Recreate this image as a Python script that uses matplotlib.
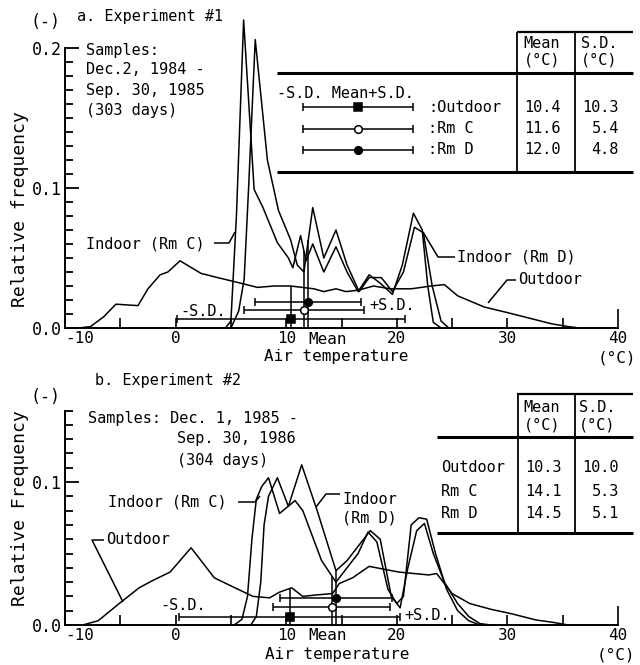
import numpy as np
import matplotlib
matplotlib.use("Agg")
import matplotlib.pyplot as plt
from matplotlib.ticker import MultipleLocator, FixedLocator

plt.rcParams['font.family'] = ['DejaVu Sans Mono']

# ---------------- data : Experiment #1 ----------------
a_out_x = [-8.8, -7.7, -6.5, -5.4, -3.4, -2.5, -1.4, -0.7, 0.4, 2.3, 3.8, 5.9, 7.4, 8.9,
           10.4, 12.5, 13.4, 14.5, 15.4, 16.5, 17.9, 19.4, 21.3, 23.1, 24.3, 25.5, 26.7,
           27.9, 30.0, 32.0, 34.0, 35.5, 36.5]
a_out_y = [0.0, 0.001, 0.008, 0.017, 0.016, 0.028, 0.038, 0.040, 0.048, 0.039, 0.036, 0.032,
           0.029, 0.030, 0.030, 0.028, 0.026, 0.028, 0.026, 0.027, 0.030, 0.028, 0.028, 0.030,
           0.031, 0.023, 0.019, 0.015, 0.011, 0.007, 0.003, 0.001, 0.0]
a_rmc_x = [4.5, 5.0, 5.5, 6.15, 7.1, 7.9, 9.2, 10.2, 10.6, 11.3, 11.8, 12.4, 13.4, 14.5, 15.5,
           16.5, 17.5, 18.5, 19.6, 20.5, 21.5, 22.3, 22.8, 23.3, 24.0]
a_rmc_y = [0.0, 0.005, 0.08, 0.22, 0.099, 0.086, 0.061, 0.05, 0.043, 0.066, 0.048, 0.060,
           0.040, 0.058, 0.040, 0.026, 0.038, 0.032, 0.024, 0.045, 0.082, 0.070, 0.030,
           0.004, 0.0]
a_rmd_x = [5.0, 5.7, 6.2, 6.6, 7.2, 8.3, 9.3, 10.4, 11.0, 11.6, 12.4, 13.4, 14.5, 15.5, 16.6,
           17.5, 18.6, 19.6, 20.6, 21.6, 22.4, 23.2, 24.0, 24.7]
a_rmd_y = [0.0, 0.012, 0.035, 0.10, 0.206, 0.12, 0.084, 0.063, 0.045, 0.040, 0.086, 0.050,
           0.070, 0.045, 0.026, 0.036, 0.036, 0.026, 0.040, 0.072, 0.068, 0.030, 0.005, 0.0]
a_labels = ["Outdoor", "Rm C", "Rm D"]
a_mean = [10.4, 11.6, 12.0]
a_sd = [10.3, 5.4, 4.8]

# ---------------- data : Experiment #2 ----------------
b_out_x = [-8.4, -7.0, -5.1, -3.3, -2.1, -0.5, 1.4, 3.5, 5.1, 7.0, 8.5, 9.4, 10.5, 11.5, 12.7,
           14.2, 14.8, 16.0, 17.5, 20.2, 22.9, 23.6, 25.0, 26.6, 28.5, 30.3, 32.6, 34.0, 35.5]
b_out_y = [0.0, 0.003, 0.015, 0.026, 0.031, 0.037, 0.054, 0.033, 0.027, 0.020, 0.019, 0.023,
           0.026, 0.020, 0.021, 0.022, 0.029, 0.033, 0.041, 0.037, 0.035, 0.036, 0.022, 0.015,
           0.011, 0.008, 0.0035, 0.002, 0.0]
b_rmc_x = [5.3, 6.0, 6.5, 6.9, 7.3, 7.8, 8.4, 9.4, 10.8, 11.5, 13.2, 14.5, 15.5, 16.5, 17.4,
           18.2, 19.2, 20.0, 20.6, 21.3, 22.0, 22.7, 23.5, 24.5, 25.5, 26.5, 27.5]
b_rmc_y = [0.0, 0.004, 0.02, 0.06, 0.088, 0.097, 0.103, 0.078, 0.087, 0.080, 0.045, 0.030,
           0.040, 0.050, 0.065, 0.058, 0.025, 0.015, 0.020, 0.070, 0.075, 0.074, 0.050, 0.025,
           0.010, 0.003, 0.0]
b_rmd_x = [6.8, 7.3, 7.7, 8.0, 8.4, 9.2, 10.2, 11.4, 12.8, 14.5, 15.5, 16.5, 17.6, 18.5, 19.5,
           20.3, 21.0, 21.8, 22.5, 23.3, 24.3, 25.5, 26.5, 27.5, 28.5]
b_rmd_y = [0.0, 0.006, 0.03, 0.07, 0.09, 0.103, 0.083, 0.112, 0.080, 0.038, 0.045, 0.055,
           0.066, 0.060, 0.020, 0.012, 0.040, 0.066, 0.071, 0.050, 0.030, 0.015, 0.006, 0.001,
           0.0]
b_labels = ["Outdoor", "Rm C", "Rm D"]
b_mean = [10.3, 14.1, 14.5]
b_sd = [10.0, 5.3, 5.1]

x_ticks = [-10, 0, 10, 20, 30, 40]
x_ticklabels = ["-10", "0", "10", "20", "30", "40"]

# ---------------- figure ----------------
W, H = 640, 665
fig = plt.figure(figsize=(W / 100, H / 100), dpi=100)
LW = 1.1
FS = 11

axa = fig.add_axes([65 / W, (H - 328) / H, 553 / W, 0.23 * 1400 / H])
axb = fig.add_axes([65 / W, (H - 625) / H, 553 / W, 0.15 * 1430 / H])


def style(ax, ytop, ylimtop, majors):
    ax.set_xlim(-10, 40)
    ax.set_ylim(0, ylimtop)
    for s in ["top", "right"]:
        ax.spines[s].set_visible(False)
    ax.spines["left"].set_bounds(0, ytop)
    ax.spines["bottom"].set_bounds(-10, 40)
    for s in ["left", "bottom"]:
        ax.spines[s].set_linewidth(1.4)
    ax.xaxis.set_major_locator(FixedLocator(x_ticks))
    ax.set_xticklabels(x_ticklabels)
    ax.xaxis.set_minor_locator(MultipleLocator(5))
    ax.yaxis.set_major_locator(FixedLocator(majors))
    ax.set_yticklabels(["%.1f" % v for v in majors])
    ax.yaxis.set_minor_locator(FixedLocator(np.round(np.arange(0, ytop + 1e-9, 0.01), 3)))
    ax.tick_params(axis="x", which="both", direction="in", length=7, width=1.2,
                   labelsize=11.5, pad=2)
    ax.tick_params(axis="y", which="major", direction="in", length=10, width=1.3,
                   labelsize=12, pad=2)
    ax.tick_params(axis="y", which="minor", direction="in", length=6, width=1.3)
    ax.patch.set_alpha(0)
    t = ax.xaxis.get_major_ticks()
    t[-1].tick1line.set_markersize(14)
    t[0].label1.set_horizontalalignment("left")


style(axa, 0.2, 0.23, [0.0, 0.1, 0.2])
style(axb, 0.15, 0.15, [0.0, 0.1])


def draw_panel(ax, curves, means, sds, levels):
    for (x, y) in curves:
        ax.plot(x, y, color="k", lw=LW, clip_on=False)
    marks = [("s", "k"), ("o", "white"), ("o", "k")]
    for (x, y), m, s, lv, (mk, fc) in zip(curves, means, sds, levels, marks):
        ax.vlines(m, 0, np.interp(m, x, y), color="k", lw=LW)
        ax.hlines(lv, m - s, m + s, color="k", lw=LW)
        ax.vlines([m - s, m + s], lv - 0.003, lv + 0.003, color="k", lw=LW)
        ax.plot([m], [lv], marker=mk, mfc=fc, mec="k", ms=5.5, mew=1.1, zorder=5)


draw_panel(axa, [(a_out_x, a_out_y), (a_rmc_x, a_rmc_y), (a_rmd_x, a_rmd_y)],
           a_mean, a_sd, [0.0065, 0.013, 0.0186])
draw_panel(axb, [(b_out_x, b_out_y), (b_rmc_x, b_rmc_y), (b_rmd_x, b_rmd_y)],
           b_mean, b_sd, [0.0056, 0.0126, 0.019])

# ---------------- overlay for annotations (pixel coordinates) ----------------
ov = fig.add_axes([0, 0, 1, 1])
ov.set_xlim(0, W)
ov.set_ylim(H, 0)
ov.axis("off")
ov.patch.set_alpha(0)


def t(x, y, s, ha="left", size=FS, **kw):
    ov.text(x, y, s, ha=ha, va="center", fontsize=size, **kw)


def line(pts, lw=LW):
    xs, ys = zip(*pts)
    ov.plot(xs, ys, color="k", lw=lw, solid_capstyle="butt")


# panel a texts
t(30, 22, "(-)", size=12)
t(77, 17, "a. Experiment #1")
t(86, 50, "Samples:")
t(86, 70, "Dec.2, 1984 -")
t(86, 90, "Sep. 30, 1985")
t(86, 110, "(303 days)")
t(86, 244, "Indoor (Rm C)")
line([(214, 243), (229, 243), (235, 232)])
t(180, 311, "-S.D.")
t(369, 305, "+S.D.")
t(457, 257, "Indoor (Rm D)")
line([(455, 257), (438, 257), (423, 232)])
t(518, 280, "Outdoor")
line([(516, 280), (507, 280), (488, 303)])
t(328, 339, "Mean", ha="center", size=11.5)
t(336, 357, "Air temperature", ha="center", size=11.5)
t(617, 358, "(°C)", ha="center", size=11.5)
t(20, 209, "Relative frequency", ha="center", size=13, rotation=90)

# panel a table
line([(517, 32), (633, 32)], lw=1.6)
line([(277, 73), (633, 73)], lw=2.2)
line([(277, 172), (633, 172)], lw=2.2)
line([(517, 32), (517, 172)], lw=1.3)
line([(575, 32), (575, 172)], lw=1.3)
t(542, 44, "Mean", ha="center")
t(542, 60, "(°C)", ha="center")
t(599, 44, "S.D.", ha="center")
t(599, 60, "(°C)", ha="center")
t(277, 94, "-S.D. Mean+S.D.")
leg_marks = [("s", "k"), ("o", "white"), ("o", "k")]
for i, (lab, m, s) in enumerate(zip(a_labels, a_mean, a_sd)):
    y = 107 + i * 21.5
    line([(303, y), (413, y)])
    line([(303, y - 4), (303, y + 4)])
    line([(413, y - 4), (413, y + 4)])
    mk, fc = leg_marks[i]
    ov.plot([358], [y], marker=mk, mfc=fc, mec="k", ms=5.5, mew=1.1)
    t(428, y, ":" + lab)
    t(561, y, "%.1f" % m, ha="right")
    t(619, y, "%.1f" % s, ha="right")

# panel b texts
t(30, 397, "(-)", size=12)
t(95, 380, "b. Experiment #2")
t(88, 418, "Samples: Dec. 1, 1985 -")
t(177, 439, "Sep. 30, 1986")
t(177, 460, "(304 days)")
t(108, 502, "Indoor (Rm C)")
line([(238, 502), (255, 502), (260, 496)])
t(106, 540, "Outdoor")
line([(104, 540), (92, 540), (123, 602)])
t(342, 499, "Indoor")
t(342, 518, "(Rm D)")
line([(340, 494), (326, 494), (316, 507)])
t(160, 605, "-S.D.")
t(404, 615, "+S.D.")
t(328, 636, "Mean", ha="center", size=11.5)
t(337, 655, "Air temperature", ha="center", size=11.5)
t(616, 655, "(°C)", ha="center", size=11.5)
t(20, 508, "Relative Frequency", ha="center", size=13, rotation=90)

# panel b table
line([(517, 394), (633, 394)], lw=1.6)
line([(437, 437), (633, 437)], lw=2.2)
line([(437, 533), (633, 533)], lw=2.2)
line([(518, 394), (518, 533)], lw=1.3)
line([(575, 394), (575, 533)], lw=1.3)
t(542, 408, "Mean", ha="center")
t(542, 425, "(°C)", ha="center")
t(597, 408, "S.D.", ha="center")
t(597, 425, "(°C)", ha="center")
for i, (lab, m, s) in enumerate(zip(b_labels, b_mean, b_sd)):
    y = 468 + i * 23
    t(441, y, lab)
    t(562, y, "%.1f" % m, ha="right")
    t(619, y, "%.1f" % s, ha="right")

fig.savefig("out.png", dpi=100)
